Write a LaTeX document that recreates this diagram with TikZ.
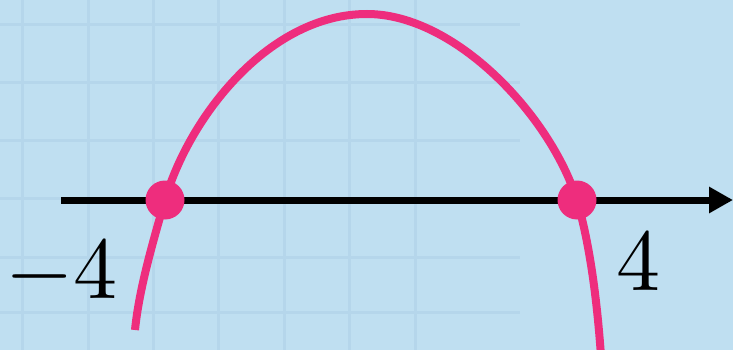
\documentclass[tikz,border=0pt]{standalone}
\usetikzlibrary{arrows.meta,fadings}
\definecolor{bgblue}{HTML}{BFDFF1}
\definecolor{gridblue}{HTML}{B5D6EB}
\definecolor{curvepink}{HTML}{EE2D7D}
\tikzset{
  gridline/.style={draw=gridblue, line width=3pt},
  curve/.style={draw=curvepink, line width=8pt},
  rootdot/.style={circle, fill=curvepink, minimum size=39pt, inner sep=0pt},
  axis/.style={draw=black, line width=7pt, -{Triangle[length=24pt,width=25pt]}},
  lbl/.style={inner sep=0pt}
}
\begin{document}
\begin{tikzpicture}[x=1pt,y=-1pt]
\useasboundingbox (0,0) rectangle (733,350);
\fill[bgblue] (0,0) rectangle (733,350);
\clip (0,0) rectangle (733,350);
% faint grid, fading to the right
\begin{scope}[path fading=east]
\path[gridline] (22,0) -- (22,350) (88,0) -- (88,350) (153,0) -- (153,350)
  (218,0) -- (218,350) (284,0) -- (284,350) (349,0) -- (349,350) (415,0) -- (415,350)
  (0,25) -- (520,25) (0,83) -- (520,83) (0,140) -- (520,140) (0,198) -- (520,198)
  (0,257) -- (520,257) (0,312) -- (520,312);
\end{scope}
% axis
\coordinate (xs) at (61,200);
\coordinate (xe) at (733,200);
\draw[axis] (xs) -- (xe);
% root dots (positions)
\coordinate (p1) at (165,200);
\coordinate (p2) at (577,200);
\coordinate (top) at (367,14);
\coordinate (lend) at (135,330);
\coordinate (rend) at (601,356);
% curve
\draw[curve] (lend) .. controls (139,290) and (152,245) .. (p1)
  .. controls (190,115) and (270,14) .. (top)
  .. controls (455,14) and (550,115) .. (p2)
  .. controls (590,245) and (597,300) .. (rend);
\node[rootdot] (r1) at (p1) {};
\node[rootdot] (r2) at (p2) {};
% labels
\node[lbl, anchor=base west] (l1) at (5,298) {\scalebox{8.8}{$-4$}};
\node[lbl, anchor=base] (l2) at (638,290) {\scalebox{8.8}{$4$}};
\end{tikzpicture}
\end{document}
